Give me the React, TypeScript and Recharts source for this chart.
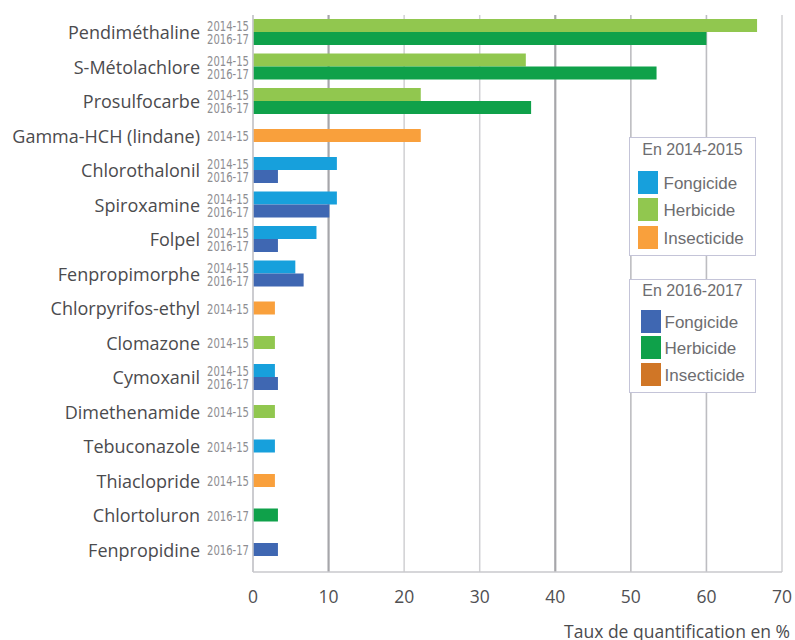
import React from 'react';
import { BarChart, Bar, XAxis, YAxis, CartesianGrid, Legend, Cell } from 'recharts';

// substances, in chart order (top to bottom)
const substances = [
  'Pendiméthaline',
  'S-Métolachlore',
  'Prosulfocarbe',
  'Gamma-HCH (lindane)',
  'Chlorothalonil',
  'Spiroxamine',
  'Folpel',
  'Fenpropimorphe',
  'Chlorpyrifos-ethyl',
  'Clomazone',
  'Cymoxanil',
  'Dimethenamide',
  'Tebuconazole',
  'Thiaclopride',
  'Chlortoluron',
  'Fenpropidine',
];
const usage = [
  'Herbicide', 'Herbicide', 'Herbicide', 'Insecticide',
  'Fongicide', 'Fongicide', 'Fongicide', 'Fongicide',
  'Insecticide', 'Herbicide', 'Fongicide', 'Herbicide',
  'Fongicide', 'Insecticide', 'Herbicide', 'Fongicide',
];
// taux de quantification (%)
const rate2014 = [66.7, 36.1, 22.2, 22.2, 11.1, 11.1, 8.4, 5.6, 2.9, 2.9, 2.9, 2.9, 2.9, 2.9, null, null];
const rate2016 = [60.0, 53.4, 36.8, null, 3.3, 10.1, 3.3, 6.7, null, null, 3.3, null, null, null, 3.3, 3.3];
const periods = ['2014-15', '2016-17'];
const xTicks = [0, 10, 20, 30, 40, 50, 60, 70];
const usageTypes = ['Fongicide', 'Herbicide', 'Insecticide'];
const legendTitles = ['En 2014-2015', 'En 2016-2017'];
const axisTitle = 'Taux de quantification en %';

const palettes: Record<string, string>[] = [
  { Fongicide: '#17a0dc', Herbicide: '#91c74f', Insecticide: '#f9a03c' },
  { Fongicide: '#3f67b2', Herbicide: '#0fa14a', Insecticide: '#d07626' },
];

const data = substances.map((name, i) => ({
  name,
  usage: usage[i],
  r2014: rate2014[i],
  r2016: rate2016[i],
}));

const BAR_SIZE = 13;
const LABEL_FONT = '"Open Sans", "Noto Sans", sans-serif';
const NARROW_FONT = '"Liberation Sans Narrow", "DejaVu Sans Condensed", "Liberation Sans", sans-serif';

const gridStyle = (v: number) => {
  if (v === 0) return { stroke: '#c9c9cd', width: 1.5 };
  if (v === 10 || v === 40) return { stroke: '#a6a6aa', width: 2.2 };
  if (v === 50 || v === 60) return { stroke: '#bdbdc1', width: 1.6 };
  return { stroke: '#d0d0d3', width: 1.5 };
};

const gridLine = (p: any) => {
  const s = gridStyle(xTicks[p.index]);
  return <line key={p.key} x1={p.x1} y1={p.y1} x2={p.x2} y2={p.y2} stroke={s.stroke} strokeWidth={s.width} />;
};

// single-period rows get their bar centred on the row
const pairedBar = (side: number) => (props: any) => {
  const { x, y, width, height, fill, payload } = props;
  if (!(width > 0) || !height) return <g />;
  const other = side === 0 ? payload.r2016 : payload.r2014;
  const shift = other == null ? (side === 0 ? height / 2 : -height / 2) : 0;
  return <rect x={x} y={y + shift} width={width} height={height} fill={fill} />;
};

const SubstanceTick = (props: any) => {
  const { x, y, payload } = props;
  const i = substances.indexOf(payload.value);
  const shown = periods.filter((_, k) => (k === 0 ? rate2014[i] : rate2016[i]) != null);
  const offsets = shown.length === 2 ? [-BAR_SIZE / 2, BAR_SIZE / 2] : [0];
  return (
    <g>
      <text x={x - 53} y={y} textAnchor="end" dominantBaseline="central" fontFamily={LABEL_FONT} fontSize={18} fill="#4b4b4e">
        {payload.value}
      </text>
      {shown.map((p, k) => (
        <text
          key={p}
          x={x - 46}
          y={y + offsets[k] + 0.5}
          dominantBaseline="central"
          fontFamily={NARROW_FONT}
          fontSize={13.5}
          textLength={42}
          lengthAdjust="spacingAndGlyphs"
          fill="#8e8e92"
        >
          {p}
        </text>
      ))}
    </g>
  );
};

const boxTop = [0, 142];
const boxHeight = [119, 114];
const titleTop = [3, 2];
const rowTop = [32.5, 29.5];
const rowStep = [27.5, 26.5];
const swatchLeft = [7.5, 10.5];
const labelLeft = [33.5, 34.5];

const LegendPanel = () => (
  <div style={{ position: 'relative', width: 127, height: 256, fontFamily: '"Liberation Sans", Arial, sans-serif' }}>
    {legendTitles.map((title, b) => (
      <div
        key={title}
        style={{
          position: 'absolute',
          left: 0,
          top: boxTop[b],
          width: 127,
          height: boxHeight[b],
          boxSizing: 'border-box',
          border: '1.5px solid #c4c4d8',
          background: '#fff',
        }}
      >
        <div style={{ position: 'absolute', left: 0, right: 0, top: titleTop[b], textAlign: 'center', fontSize: 16, lineHeight: '18px', color: '#6d6d70' }}>
          {title}
        </div>
        {usageTypes.map((t, k) => (
          <div key={t} style={{ position: 'absolute', left: 0, top: rowTop[b] + k * rowStep[b], height: 23, width: '100%' }}>
            <div style={{ position: 'absolute', left: swatchLeft[b], top: 0, width: 20, height: 23, background: palettes[b][t] }} />
            <div style={{ position: 'absolute', left: labelLeft[b], top: 0, lineHeight: '25px', fontSize: 17, color: '#6d6d70' }}>{t}</div>
          </div>
        ))}
      </div>
    ))}
  </div>
);

const AxisTitle = (p: any) => {
  const vb = p.viewBox;
  return (
    <text x={vb.x + vb.width + 8} y={vb.y + vb.height - 9} textAnchor="end" dominantBaseline="central" fontFamily={LABEL_FONT} fontSize={17.5} fill="#4b4b4e">
      {axisTitle}
    </text>
  );
};

export default function App() {
  return (
    <div style={{ position: 'absolute', left: 0, top: 0, background: '#fff' }}>
      <BarChart
        width={795}
        height={640}
        data={data}
        layout="vertical"
        barSize={BAR_SIZE}
        barGap={0}
        margin={{ top: 15, right: 13, bottom: 0, left: 0 }}
      >
        <CartesianGrid horizontal={false} vertical={gridLine} />
        <XAxis
          type="number"
          domain={[0, 70]}
          ticks={xTicks}
          height={68}
          tickLine={false}
          tickSize={0}
          tickMargin={19}
          axisLine={{ stroke: '#c9c9cd', strokeWidth: 1.5 }}
          tick={{ fill: '#505053', fontSize: 17.5, fontFamily: LABEL_FONT }}
          label={{ content: AxisTitle }}
        />
        <YAxis
          type="category"
          dataKey="name"
          width={253}
          padding={{ top: 0, bottom: 5 }}
          tickLine={false}
          tickSize={0}
          tickMargin={0}
          interval={0}
          axisLine={{ stroke: '#c9c9cd', strokeWidth: 1.5 }}
          tick={<SubstanceTick />}
        />
        <Legend
          content={LegendPanel}
          layout="horizontal"
          verticalAlign="middle"
          align="center"
          wrapperStyle={{ left: 629, top: 137, width: 127, height: 256 }}
        />
        <Bar dataKey="r2014" isAnimationActive={false} shape={pairedBar(0)}>
          {data.map((d) => (
            <Cell key={d.name} fill={palettes[0][d.usage]} />
          ))}
        </Bar>
        <Bar dataKey="r2016" isAnimationActive={false} shape={pairedBar(1)}>
          {data.map((d) => (
            <Cell key={d.name} fill={palettes[1][d.usage]} />
          ))}
        </Bar>
      </BarChart>
    </div>
  );
}
